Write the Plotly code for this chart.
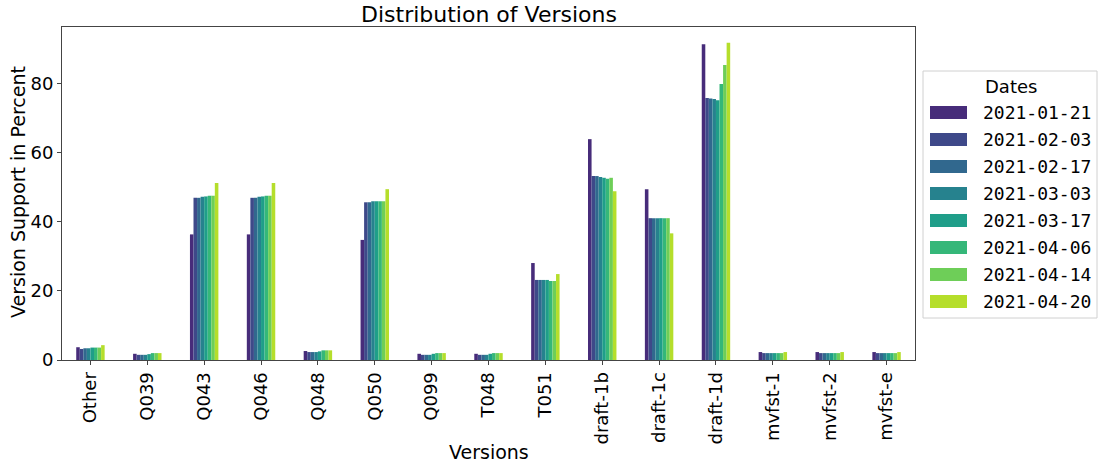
import plotly.graph_objects as go

# Version shares (percent) per measurement date
versions = ["Other", "Q039", "Q043", "Q046", "Q048", "Q050", "Q099", "T048", "T051",
            "draft-1b", "draft-1c", "draft-1d", "mvfst-1", "mvfst-2", "mvfst-e"]
dates = ["2021-01-21", "2021-02-03", "2021-02-17", "2021-03-03",
         "2021-03-17", "2021-04-06", "2021-04-14", "2021-04-20"]

other = [3.7, 3.2, 3.4, 3.4, 3.6, 3.6, 3.6, 4.3]
q039 = [1.8, 1.5, 1.5, 1.5, 1.7, 2.0, 2.0, 2.0]
q043 = [36.4, 47.0, 47.0, 47.3, 47.4, 47.6, 47.6, 51.3]
q046 = [36.4, 47.0, 47.0, 47.3, 47.4, 47.6, 47.6, 51.3]
q048 = [2.6, 2.3, 2.3, 2.3, 2.5, 2.8, 2.8, 2.8]
q050 = [34.8, 45.7, 45.7, 46.0, 46.0, 46.0, 46.0, 49.5]
q099 = [1.8, 1.5, 1.5, 1.5, 1.8, 2.0, 2.0, 2.0]
t048 = [1.8, 1.5, 1.5, 1.5, 1.8, 2.0, 2.0, 2.0]
t051 = [28.1, 23.2, 23.2, 23.2, 23.2, 22.9, 22.9, 24.9]
draft_1b = [64.0, 53.3, 53.3, 53.0, 52.8, 52.5, 52.8, 48.9]
draft_1c = [49.5, 41.1, 41.1, 41.1, 41.1, 41.1, 41.1, 36.7]
draft_1d = [91.5, 75.9, 75.8, 75.6, 75.3, 80.0, 85.5, 91.9]
mvfst_1 = [2.3, 2.0, 2.0, 2.0, 2.0, 2.0, 2.0, 2.3]
mvfst_2 = [2.3, 2.0, 2.0, 2.0, 2.0, 2.0, 2.0, 2.3]
mvfst_e = [2.3, 2.0, 2.0, 2.0, 2.0, 2.0, 2.0, 2.3]

by_version = [other, q039, q043, q046, q048, q050, q099, t048, t051,
              draft_1b, draft_1c, draft_1d, mvfst_1, mvfst_2, mvfst_e]

colors = ["#472c7a", "#3e4989", "#31688e", "#26828e",
          "#1f9e89", "#35b779", "#6ece58", "#b5de2b"]

# plot-area geometry in pixels
W, H = 1099, 464
L, R, T, B = 62, 915, 27, 360
PW, PH = R - L, B - T


def px(x):
    return (x - L) / PW


def py(y):
    return (B - y) / PH


fig = go.Figure()
for i, d in enumerate(dates):
    fig.add_trace(go.Bar(
        x=versions,
        y=[vals[i] for vals in by_version],
        name=d,
        marker=dict(color=colors[i], line=dict(width=0)),
        showlegend=False,
    ))

ymax = max(max(v) for v in by_version) * 1.05
axis_color = "#444444"

fig.update_layout(
    width=W, height=H,
    margin=dict(l=L, r=W - R, t=T, b=H - B),
    plot_bgcolor="white", paper_bgcolor="white",
    barmode="group", bargap=0.5, bargroupgap=0,
    font=dict(family="DejaVu Sans", size=18, color="black"),
    xaxis=dict(
        showline=True, linecolor=axis_color, linewidth=1, mirror=True,
        ticks="outside", ticklen=4, tickcolor=axis_color, tickangle=-90,
        showgrid=False, zeroline=False,
        range=[-0.5, len(versions) - 0.5],
    ),
    yaxis=dict(
        showline=True, linecolor=axis_color, linewidth=1, mirror=True,
        ticks="outside", ticklen=4, tickcolor=axis_color,
        showgrid=False, zeroline=False,
        range=[0, ymax], tickvals=[0, 20, 40, 60, 80],
    ),
)

annotations = [
    dict(text="Distribution of Versions", x=px(488.5), y=py(15),
         font=dict(size=22)),
    dict(text="Versions", x=px(488.5), y=py(452), font=dict(size=19)),
    dict(text="Version Support in Percent", x=px(18), y=py(192),
         textangle=-90, font=dict(size=19)),
    dict(text="Dates", x=px(1011), y=py(86), font=dict(size=18)),
]

shapes = [
    dict(type="rect", xref="paper", yref="paper",
         x0=px(923), x1=px(1097), y0=py(318), y1=py(71),
         line=dict(color="#d0d0d0", width=1), fillcolor="white", layer="below"),
]

for i, d in enumerate(dates):
    top = 106 + 27 * i
    shapes.append(dict(type="rect", xref="paper", yref="paper",
                       x0=px(930), x1=px(967), y0=py(top + 13), y1=py(top),
                       line=dict(width=0), fillcolor=colors[i]))
    annotations.append(dict(text=d, x=px(981), y=py(top + 6.5), xanchor="left",
                            font=dict(family="DejaVu Sans Mono", size=18)))

for a in annotations:
    a.setdefault("xanchor", "center")
    a.update(xref="paper", yref="paper", yanchor="middle", showarrow=False)

fig.update_layout(annotations=annotations, shapes=shapes)

fig.write_html("out.html")
